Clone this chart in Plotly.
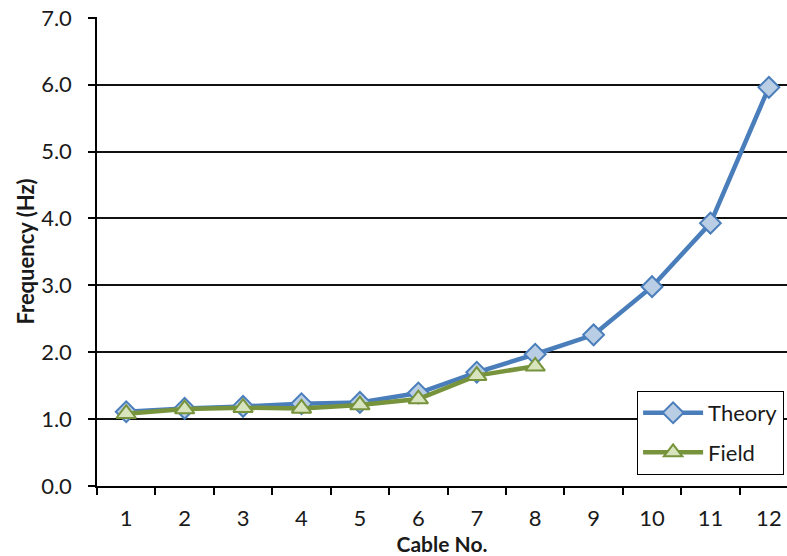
import plotly.graph_objects as go

cables = ["1", "2", "3", "4", "5", "6", "7", "8", "9", "10", "11", "12"]
theory = [1.11, 1.16, 1.19, 1.23, 1.25, 1.39, 1.70, 1.97, 2.26, 2.98, 3.93, 5.96]
field_cables = ["1", "2", "3", "4", "5", "6", "7", "8"]
field = [1.08, 1.15, 1.17, 1.16, 1.21, 1.30, 1.65, 1.79]
y_ticks = [0, 1, 2, 3, 4, 5, 6, 7]
y_labels = ["0.0", "1.0", "2.0", "3.0", "4.0", "5.0", "6.0", "7.0"]

FONT = "Lato"
TXT = "#1a1a1a"

fig = go.Figure()
fig.add_trace(go.Scatter(
    x=cables, y=theory, name="Theory", mode="lines+markers", legendgroup="t",
    line=dict(color="#4A7EBB", width=4.5),
    marker=dict(symbol="diamond", size=16, color="#B9CDE5",
                line=dict(color="#4A7EBB", width=2)),
))
fig.add_trace(go.Scatter(
    x=field_cables, y=field, name="Field", mode="lines+markers", legendgroup="f",
    line=dict(color="#77933C", width=4.5),
    marker=dict(symbol="triangle-up", size=17, color="#D7E4BD",
                line=dict(color="#77933C", width=2)),
))

fig.update_layout(
    width=787, height=556,
    margin=dict(l=97, r=0, t=17, b=70, autoexpand=False),
    paper_bgcolor="white", plot_bgcolor="white",
    font=dict(family=FONT, size=22, color=TXT),
    showlegend=True,
    legend=dict(x=0.9955, y=0.024, xanchor="right", yanchor="bottom",
                bordercolor="black", borderwidth=1.2, bgcolor="white",
                font=dict(size=22, family=FONT, color=TXT),
                traceorder="grouped", tracegroupgap=8, itemwidth=60),
)
fig.update_xaxes(
    type="category", categoryorder="array", categoryarray=cables,
    range=[-0.5, 11.31], automargin=False,
    showline=True, linecolor="black", linewidth=1.5,
    ticks="outside", tickson="boundaries", ticklen=7, tickcolor="black", tickwidth=1.5,
    ticklabelstandoff=12, ticklabeloverflow="allow",
    showgrid=False, zeroline=False,
    tickfont=dict(size=22, family=FONT, color=TXT),
    title=dict(text="<b>Cable No.</b>", font=dict(size=21, family=FONT, color=TXT), standoff=0),
)
fig.update_yaxes(
    range=[0, 7.012], tickvals=y_ticks, ticktext=y_labels, automargin=False,
    showline=True, linecolor="black", linewidth=1.5,
    ticks="outside", ticklen=7, tickcolor="black", tickwidth=1.5,
    ticklabelstandoff=12, ticklabeloverflow="allow",
    showgrid=True, gridcolor="#111", gridwidth=1.6, zeroline=False,
    tickfont=dict(size=22, family=FONT, color=TXT),
    title=dict(text="<b>Frequency (Hz)</b>", font=dict(size=22, family=FONT, color=TXT), standoff=0),
)

fig.write_html("out.html", config={"displayModeBar": False},
               post_script="document.body.style.margin='0';")
